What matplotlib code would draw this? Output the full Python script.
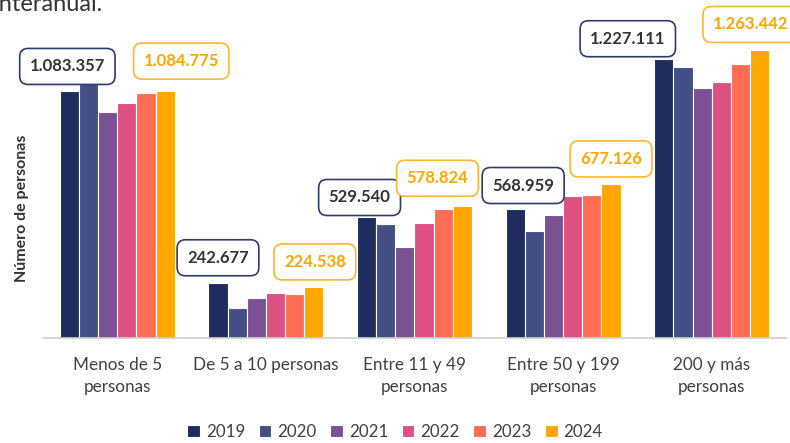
import numpy as np
import matplotlib.pyplot as plt

plt.rcParams['font.family'] = ['Lato', 'DejaVu Sans']

# Data
categories = ['Menos de 5\npersonas', 'De 5 a 10 personas', 'Entre 11 y 49\npersonas',
              'Entre 50 y 199\npersonas', '200 y más\npersonas']
years = ['2019', '2020', '2021', '2022', '2023', '2024']
values = {
    '2019': [1083357, 242677, 529540, 568959, 1227111],
    '2020': [1130000, 132000, 500000, 469000, 1189000],
    '2021': [993000, 176000, 398000, 539000, 1097000],
    '2022': [1031000, 196000, 507000, 624000, 1126000],
    '2023': [1076000, 193000, 565000, 630000, 1202000],
    '2024': [1084775, 224538, 578824, 677126, 1263442],
}
colors = ['#1e2d5e', '#434f85', '#7c5194', '#dd5182', '#ff6e54', '#ffa600']

# label offsets (pixels) of the 2019 / 2024 boxes relative to the bar top
off_2019 = [(-2, 25), (0, 25), (-7, 20), (8, 23), (-36, 20)]
off_2024 = [(16, 30), (1, 25), (-25, 28), (0, 25), (-9, 26)]


def fmt(v):
    return f'{v:,}'.replace(',', '.')


fig = plt.figure(figsize=(7.9, 4.43), dpi=100)
ax = fig.add_axes([43 / 790, 105 / 443, 743 / 790, 308 / 443])

x = np.arange(len(categories))
width = 0.129
for i, yr in enumerate(years):
    ax.bar(x + (i - 2.5) * width, values[yr], width, color=colors[i],
           edgecolor='white', linewidth=0.8, label=yr, zorder=2)

ax.set_xlim(-0.5, len(categories) - 0.5)
ax.set_ylim(0, 308 * 4394)
ax.set_yticks([])
for s in ['top', 'left', 'right']:
    ax.spines[s].set_visible(False)
ax.spines['bottom'].set_color('#cfcfcf')
ax.spines['bottom'].set_linewidth(1.2)
ax.set_xticks(x)
ax.set_xticklabels(categories, fontsize=12.3, color='#404040', linespacing=1.45)
ax.tick_params(axis='x', length=0, pad=14)

ax.set_ylabel('Número de personas', fontsize=11.5, fontweight='bold', color='#333333')
ax.yaxis.set_label_coords(-0.019, 0.42)

# value boxes
box = 'round,pad=0.6,rounding_size=0.5'
for j in range(len(categories)):
    xb = x[j] - 2.5 * width
    dx, dy = off_2019[j]
    ax.annotate(fmt(values['2019'][j]), (xb, values['2019'][j]),
                xytext=(dx * 0.72, dy * 0.72), textcoords='offset points',
                ha='center', va='center', fontsize=12, fontweight='bold', color='#333333',
                bbox=dict(boxstyle=box, fc='white', ec='#2e3c6e', lw=1.2),
                zorder=5, annotation_clip=False)
    xb = x[j] + 2.5 * width
    dx, dy = off_2024[j]
    ax.annotate(fmt(values['2024'][j]), (xb, values['2024'][j]),
                xytext=(dx * 0.72, dy * 0.72), textcoords='offset points',
                ha='center', va='center', fontsize=12, fontweight='bold', color='#ffa600',
                bbox=dict(boxstyle=box, fc='white', ec='#ffb62e', lw=1.2),
                zorder=5, annotation_clip=False)

fig.text(-6, 443 - 11, 'interanual.', transform=None, fontsize=17, color='#333333',
         va='baseline', ha='left')

leg = fig.legend(loc='lower center', bbox_to_anchor=(0.5, -0.028), ncol=6, frameon=False,
                 fontsize=12.2, handlelength=0.75, handleheight=0.75, handletextpad=0.35,
                 columnspacing=0.8, labelcolor='#404040')

fig.savefig('out.png', dpi=100)
